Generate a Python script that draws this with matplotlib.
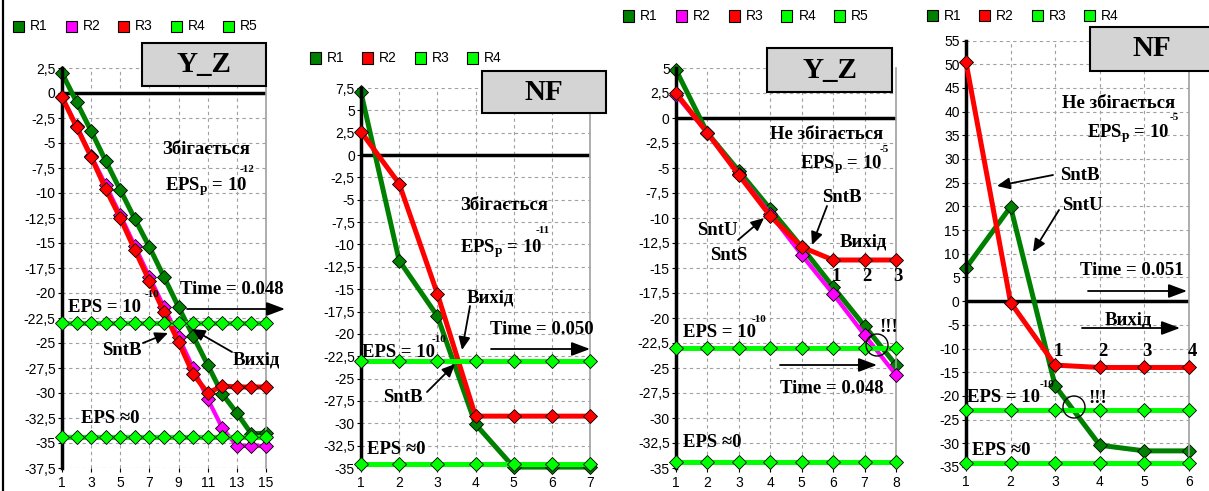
import matplotlib
matplotlib.use("Agg")
import matplotlib.pyplot as plt
from matplotlib.lines import Line2D
from matplotlib.patches import Rectangle, Ellipse, FancyArrowPatch
from matplotlib.ticker import FuncFormatter, MultipleLocator

W, H = 1209, 491

DKGREEN = "#008000"
MAGENTA = "#ff00ff"
RED = "#ff0000"
LIME = "#00ff00"
GRID = "#a0a0a0"
BOXGREY = "#d4d4d4"
SERIF = "Liberation Serif"
SANS = "Liberation Sans"

plt.rcParams["axes.unicode_minus"] = False
plt.rcParams["mathtext.fontset"] = "custom"
plt.rcParams["mathtext.rm"] = "Liberation Serif:bold"
plt.rcParams["mathtext.bf"] = "Liberation Serif:bold"
plt.rcParams["mathtext.it"] = "Liberation Serif:bold:italic"

# ---------------------------------------------------------------- data
# panel 1: Y_Z, converges
p1_x = [1, 2, 3, 4, 5, 6, 7, 8, 9, 10, 11, 12, 13, 14, 15]
p1_r1 = [2.0, -0.9, -3.8, -6.8, -9.7, -12.6, -15.4, -18.4, -21.4, -24.3, -27.2, -30.1, -32.0, -34.1, -34.0]
p1_r2 = [-0.4, -3.3, -6.3, -9.2, -12.2, -15.3, -18.4, -21.4, -24.4, -27.5, -30.6, -33.5, -35.3, -35.3, -35.3]
p1_r3 = [-0.4, -3.4, -6.4, -9.6, -12.5, -15.7, -18.8, -21.9, -24.9, -28.1, -30.0, -29.3, -29.4, -29.4, -29.4]
p1_r4 = [-23.0, -23.0, -23.0, -23.0, -23.0, -23.0, -23.0, -23.0, -23.0, -23.0, -23.0, -23.0, -23.0, -23.0, -23.0]
p1_r5 = [-34.4, -34.4, -34.4, -34.4, -34.4, -34.4, -34.4, -34.4, -34.4, -34.4, -34.4, -34.4, -34.4, -34.4, -34.4]
p1_xticks = [1, 3, 5, 7, 9, 11, 13, 15]

# panel 2: NF, converges
p2_x = [1, 2, 3, 4, 5, 6, 7]
p2_r1 = [7.0, -11.8, -18.0, -30.1, -34.9, -34.9, -34.9]
p2_r2 = [2.6, -3.2, -15.5, -29.2, -29.2, -29.2, -29.2]
p2_r3 = [-23.0, -23.0, -23.0, -23.0, -23.0, -23.0, -23.0]
p2_r4 = [-34.5, -34.5, -34.5, -34.5, -34.5, -34.5, -34.5]

# panel 3: Y_Z, does not converge
p3_x = [1, 2, 3, 4, 5, 6, 7, 8]
p3_r1 = [4.8, -1.5, -5.3, -9.1, -12.9, -16.9, -20.8, -24.7]
p3_r2 = [2.3, -1.5, -5.6, -9.6, -13.7, -17.6, -21.7, -25.7]
p3_r3 = [2.5, -1.5, -5.7, -9.8, -12.9, -14.2, -14.2, -14.2]
p3_r4 = [-23.0, -23.0, -23.0, -23.0, -23.0, -23.0, -23.0, -23.0]
p3_r5 = [-34.4, -34.4, -34.4, -34.4, -34.4, -34.4, -34.4, -34.4]

# panel 4: NF, does not converge
p4_x = [1, 2, 3, 4, 5, 6]
p4_r1 = [7.0, 19.9, -17.9, -30.4, -31.6, -31.6]
p4_r2 = [50.4, -0.3, -13.5, -14.0, -14.0, -14.0]
p4_r3 = [-22.9, -22.9, -22.9, -22.9, -22.9, -22.9]
p4_r4 = [-34.2, -34.2, -34.2, -34.2, -34.2, -34.2]

labels5 = ["R1", "R2", "R3", "R4", "R5"]
labels4 = ["R1", "R2", "R3", "R4"]

fig = plt.figure(figsize=(W / 100, H / 100), dpi=100)
fig.patch.set_facecolor("white")


def fx(x):
    return x / W


def fy(y):
    return 1 - y / H


def make_axes(left, right, top, bottom, xlim, ylim, xticks, ystep):
    ax = fig.add_axes([fx(left), fy(bottom), (right - left) / W, (bottom - top) / H])
    ax.set_xlim(*xlim)
    ax.set_ylim(*ylim)
    ax.set_xticks(xticks)
    ax.yaxis.set_major_locator(MultipleLocator(ystep))
    ax.yaxis.set_major_formatter(FuncFormatter(lambda v, _: f"{v:g}".replace(".", ",")))
    ax.spines["top"].set_visible(False)
    ax.spines["bottom"].set_visible(False)
    ax.spines["left"].set_color("black")
    ax.spines["left"].set_linewidth(2.5)
    ax.spines["right"].set_color(GRID)
    ax.spines["right"].set_linewidth(1.2)
    ax.grid(True, color=GRID, ls=(0, (3, 3)), lw=0.8)
    ax.set_axisbelow(True)
    ax.axhline(0, color="black", lw=2.5, zorder=1.5)
    ax.tick_params(axis="y", length=3, width=0.8, pad=1.5, labelsize=10,
                   labelfontfamily=SANS)
    ax.tick_params(axis="x", length=3, width=0.8, pad=3, labelsize=10,
                   labelfontfamily=SANS)
    return ax


def series(ax, x, y, color, lw=3.6, z=2):
    ax.plot(x, y, color=color, lw=lw, marker="D", ms=7, mfc=color, mec="black",
            mew=0.6, clip_on=False, zorder=z)


def legend(x0, yc, labels, colors, step=52.5):
    for i, (lab, c) in enumerate(zip(labels, colors)):
        x = x0 + i * step
        fig.add_artist(Rectangle((fx(x), fy(yc + 5.5)), 11 / W, 11 / H,
                                 transform=fig.transFigure, fc=c, ec="black", lw=0.8))
        fig.text(fx(x + 17), fy(yc), lab, family=SANS, size=10, va="center", ha="left")


def title_box(x0, x1, y0, y1, s):
    fig.add_artist(Rectangle((fx(x0), fy(y1)), (x1 - x0) / W, (y1 - y0) / H,
                             transform=fig.transFigure, fc=BOXGREY, ec="black", lw=1.5))
    fig.text(fx((x0 + x1) / 2), fy((y0 + y1) / 2), s, family=SERIF, weight="bold",
             size=21, ha="center", va="center")


def label(x, y, s, size=13.5, ha="left"):
    fig.text(fx(x), fy(y), s, family=SERIF, weight="bold", size=size,
             ha=ha, va="baseline")


def arrow(x0, y0, x1, y1, big=False):
    if big:
        style = "-|>,head_length=0.8,head_width=0.3"
    else:
        style = "-|>,head_length=0.55,head_width=0.25"
    fig.add_artist(FancyArrowPatch((fx(x0), fy(y0)), (fx(x1), fy(y1)),
                                   transform=fig.transFigure, arrowstyle=style,
                                   mutation_scale=14, lw=1.3, color="black",
                                   shrinkA=0, shrinkB=0))


def circle(cx, cy, r=11):
    fig.add_artist(Ellipse((fx(cx), fy(cy)), 2 * r / W, 2 * r / H,
                           transform=fig.transFigure, fill=False, ec="black", lw=1))


# ---------------------------------------------------------------- panel 1
ax1 = make_axes(62, 266, 68, 468, (1, 15), (-37.5, 2.5), p1_xticks, 2.5)
series(ax1, p1_x, p1_r1, DKGREEN, z=2)
series(ax1, p1_x, p1_r2, MAGENTA, lw=3.0, z=3)
series(ax1, p1_x, p1_r3, RED, z=4)
series(ax1, p1_x, p1_r4, LIME, z=5)
series(ax1, p1_x, p1_r5, LIME, z=6)
legend(13, 26.5, labels5, [DKGREEN, MAGENTA, RED, LIME, LIME])
title_box(142, 266, 43, 86, "Y_Z")
label(162, 154, "Збігається")
label(165, 190, r"EPS$_{\mathrm{p}}$ = 10")
label(240, 172, "-12", size=8)
label(180, 294, "Time = 0.048")
arrow(187, 309, 285, 309, big=True)
label(68, 312, "EPS = 10")
label(145, 297, "-10", size=8)
label(102, 355, "SntB")
arrow(143, 343, 168, 333)
label(233, 365, "Вихід")
arrow(232, 352, 192, 329)
label(81, 423, "EPS ≈0")

# ---------------------------------------------------------------- panel 2
ax2 = make_axes(361, 590, 88, 468, (1, 7), (-35, 7.5), p2_x, 2.5)
series(ax2, p2_x, p2_r1, DKGREEN, z=2)
series(ax2, p2_x, p2_r2, RED, z=3)
series(ax2, p2_x, p2_r3, LIME, z=4)
series(ax2, p2_x, p2_r4, LIME, z=5)
legend(310, 58, labels4, [DKGREEN, RED, LIME, LIME], step=52.3)
title_box(482, 606, 71, 113, "NF")
label(460, 210, "Збігається")
label(460, 252, r"EPS$_{\mathrm{p}}$ = 10")
label(536, 233, "-11", size=8)
label(467, 303, "Вихід")
arrow(470, 306, 462, 350)
label(490, 334, "Time = 0.050")
arrow(491, 349, 590, 349, big=True)
label(362, 357, "EPS = 10")
label(432, 342, "-10", size=8)
label(383, 402, "SntB")
arrow(427, 392, 455, 364)
label(367, 454, "EPS ≈0")

# ---------------------------------------------------------------- panel 3
ax3 = make_axes(676, 896, 68, 468, (1, 8), (-35, 5), p3_x, 2.5)
series(ax3, p3_x, p3_r1, DKGREEN, z=2)
series(ax3, p3_x, p3_r2, MAGENTA, lw=3.0, z=3)
series(ax3, p3_x, p3_r3, RED, z=4)
series(ax3, p3_x, p3_r4, LIME, z=5)
series(ax3, p3_x, p3_r5, LIME, z=6)
legend(623, 16, labels5, [DKGREEN, MAGENTA, RED, LIME, LIME], step=52.8)
title_box(767, 892, 48, 92, "Y_Z")
label(770, 139, "Не збігається")
label(800, 168, r"EPS$_{\mathrm{p}}$ = 10")
label(880, 152, "-5", size=8)
label(822, 202, "SntB")
arrow(827, 206, 812, 245)
label(697, 235, "SntU")
arrow(738, 240, 764, 218)
label(710, 260, "SntS")
label(840, 247, "Вихід")
for i, s in enumerate(["1", "2", "3"]):
    label(836 + i * 31, 281, s, ha="center")
label(879, 332, "!!!")
circle(877, 345)
label(683, 337, "EPS = 10")
label(752, 322, "-10", size=8)
arrow(780, 365, 877, 365, big=True)
label(780, 393, "Time = 0.048")
label(683, 447, "EPS ≈0")

# ---------------------------------------------------------------- panel 4
ax4 = make_axes(966, 1189, 40.5, 467, (1, 6), (-35, 55), p4_x, 5)
series(ax4, p4_x, p4_r1, DKGREEN, z=2)
series(ax4, p4_x, p4_r2, RED, z=3)
series(ax4, p4_x, p4_r3, LIME, z=4)
series(ax4, p4_x, p4_r4, LIME, z=5)
legend(927, 15.5, labels4, [DKGREEN, RED, LIME, LIME], step=52.3)
title_box(1090, 1214, 27, 71, "NF")
label(1062, 108, "Не збігається")
label(1087, 137, r"EPS$_{\mathrm{p}}$ = 10")
label(1170, 120, "-5", size=8)
label(1060, 180, "SntB")
arrow(1053, 175, 997, 186)
label(1062, 210, "SntU")
arrow(1059, 210, 1033, 252)
label(1080, 275, "Time = 0.051")
arrow(1088, 291, 1187, 291, big=True)
label(1105, 325, "Вихід")
arrow(1082, 328, 1180, 328, big=True)
for i, s in enumerate(["1", "2", "3", "4"]):
    label(1058 + i * 44.7, 356, s, ha="center")
label(1088, 403, "!!!")
circle(1074, 407)
label(967, 402, "EPS = 10")
label(1040, 387, "-10", size=8)
label(972, 455, "EPS ≈0")

# left frame border
fig.add_artist(Line2D([fx(2.5), fx(2.5)], [0, 1], color="black", lw=1.6))

fig.savefig("out.png", dpi=100)
